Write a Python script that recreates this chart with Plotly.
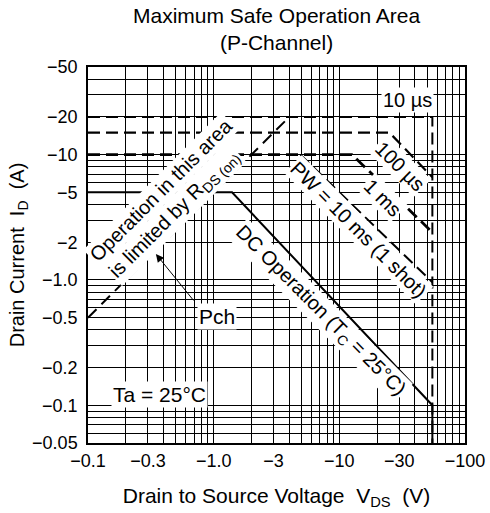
import math
import plotly.graph_objects as go

FONT = "Liberation Sans, Arial, sans-serif"

# ---- data (V in volts, I in amps; magnitudes, labels shown negative) ----
x_tickvals = [0.1, 0.3, 1, 3, 10, 30, 100]
x_ticktext = ["−0.1", "−0.3", "−1.0", "−3", "−10", "−30", "−100"]
y_tickvals = [0.05, 0.1, 0.2, 0.5, 1, 2, 5, 10, 20, 50]
y_ticktext = ["−0.05", "−0.1", "−0.2", "−0.5", "−1.0", "−2", "−5", "−10", "−20", "−50"]

dc_v = [0.1, 1.4, 55, 55]
dc_i = [5, 5, 0.1, 0.05]
pw10us_v = [0.1, 55, 55]
pw10us_i = [20, 20, 0.05]
pw100us_v = [0.1, 25, 55]
pw100us_i = [15, 15, 6.6]
pw1ms_v = [0.1, 12.6, 55]
pw1ms_i = [10, 10, 2.4]
pw10ms_v = [4.9, 55]
pw10ms_i = [10, 0.96]
rds_v = [0.1, 4]
rds_i = [0.5, 20]

minor_x = [m * d for d in (0.1, 1, 10) for m in range(1, 10)] + [100]
minor_y = [m * d for d in (0.01, 0.1, 1, 10) for m in range(1, 10)] + [50]
minor_y = [v for v in minor_y if 0.05 <= v <= 50]

fig = go.Figure()

def add_line(v, i, dash, width):
    fig.add_trace(go.Scatter(x=v, y=i, mode="lines",
                             line=dict(color="black", width=width, dash=dash),
                             showlegend=False, hoverinfo="skip"))

add_line(pw10us_v, pw10us_i, "12px,6px", 2)
add_line(pw100us_v, pw100us_i, "12px,6px", 2.2)
add_line(pw1ms_v, pw1ms_i, "12px,6px", 2.8)
add_line(pw10ms_v, pw10ms_i, "12px,6px", 2)
add_line(rds_v, rds_i, "12px,7px", 2)
add_line(dc_v, dc_i, "solid", 2)

def L(v):
    return math.log10(v)

def lab(text, x, y, angle=0, size=20):
    fig.add_annotation(x=L(x), y=L(y), xref="x", yref="y", text=text, showarrow=False,
                       textangle=angle, bgcolor="white", borderpad=1,
                       font=dict(family=FONT, size=size, color="black"))

lab("10 µs", 35.1, 27.3)
lab("100 µs", 30.3, 8.1, 45)
lab("1 ms", 22.2, 4.5, 45)
lab("PW = 10 ms (1 shot)", 14.3, 2.5, 45)
lab("DC Operation (T<sub>C</sub> = 25°C)", 7.14, 0.565, 45)
lab("Operation in this area", 0.381, 5.22, -45)
lab("is limited by R<sub>DS (on)</sub>", 0.492, 3.36, -45)
lab("Ta = 25°C", 0.374, 0.123, 0, 21)
lab("Pch", 1.06, 0.515, 0, 21)

fig.add_annotation(x=L(0.347), y=L(1.61), ax=L(0.708), ay=L(0.667),
                   xref="x", yref="y", axref="x", ayref="y", text="",
                   showarrow=True, arrowhead=2, arrowsize=1.6, arrowwidth=1,
                   arrowcolor="black")

# title
fig.add_annotation(x=0.5, y=1, xref="paper", yref="paper", xanchor="center", yanchor="bottom",
                   yshift=11, showarrow=False,
                   text="Maximum Safe Operation Area<br>(P-Channel)",
                   font=dict(family=FONT, size=21, color="black"))

grid = "#000000"
axis_common = dict(type="log", showgrid=True, gridcolor=grid, gridwidth=1,
                   showline=True, linecolor="black", linewidth=1.5, mirror=True,
                   ticks="", zeroline=False, automargin=False,
                   tickfont=dict(family=FONT, size=18, color="black"))
fig.update_xaxes(range=[-1, 2], tickvals=x_tickvals, ticktext=x_ticktext,
                 ticklabelstandoff=1,
                 minor=dict(tickmode="array", tickvals=minor_x, showgrid=True,
                            gridcolor=grid, gridwidth=1, ticklen=0),
                 title=dict(text="Drain to Source Voltage  V<sub>DS</sub>  (V)",
                            font=dict(family=FONT, size=21, color="black"), standoff=18),
                 **axis_common)
fig.update_yaxes(range=[L(0.05), L(50)], tickvals=y_tickvals, ticktext=y_ticktext,
                 ticklabelstandoff=5,
                 minor=dict(tickmode="array", tickvals=minor_y, showgrid=True,
                            gridcolor=grid, gridwidth=1, ticklen=0),
                 title=dict(text="Drain Current  I<sub>D</sub>  (A)",
                            font=dict(family=FONT, size=20, color="black"), standoff=2),
                 **axis_common)

fig.update_layout(
    width=490, height=513,
    margin=dict(l=88, r=25, t=67, b=70),
    paper_bgcolor="white", plot_bgcolor="white",
    showlegend=False,
)

fig.write_html("out.html")
